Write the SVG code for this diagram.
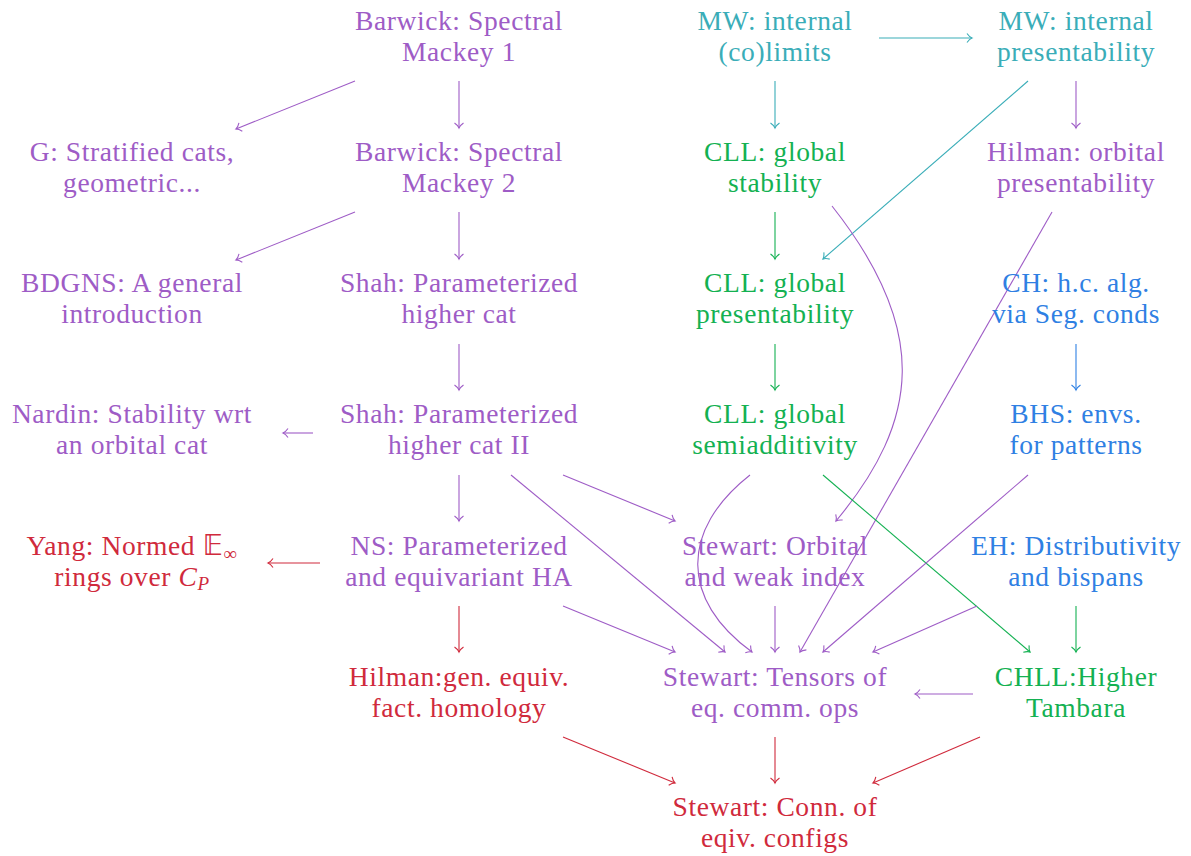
<svg xmlns="http://www.w3.org/2000/svg" width="1191" height="856" viewBox="0 0 1191 856">
<style>
text{font-family:"Liberation Serif",serif;font-size:27.5px;letter-spacing:0.6px;text-anchor:middle}
.pu{fill:#9E5CC6}.te{fill:#3AADB8}.gr{fill:#14B152}.bl{fill:#2F80E3}.re{fill:#D02A3C}
path.c{fill:none;stroke-width:1.1}
.spu{stroke:#9E5CC6}.ste{stroke:#3AADB8}.sgr{stroke:#14B152}.sbl{stroke:#2F80E3}.sre{stroke:#D02A3C}
</style>
<defs>
<marker id="apu" markerUnits="userSpaceOnUse" orient="auto" markerWidth="12" markerHeight="12" refX="0" refY="0" viewBox="-6 -6 12 12" overflow="visible"><path d="M-5,-4.5 C-3,-1.6 -1,-0.4 0,0 C-1,0.4 -3,1.6 -5,4.5" fill="none" stroke="#9E5CC6" stroke-width="1.1"/></marker>
<marker id="ate" markerUnits="userSpaceOnUse" orient="auto" markerWidth="12" markerHeight="12" refX="0" refY="0" viewBox="-6 -6 12 12" overflow="visible"><path d="M-5,-4.5 C-3,-1.6 -1,-0.4 0,0 C-1,0.4 -3,1.6 -5,4.5" fill="none" stroke="#3AADB8" stroke-width="1.1"/></marker>
<marker id="agr" markerUnits="userSpaceOnUse" orient="auto" markerWidth="12" markerHeight="12" refX="0" refY="0" viewBox="-6 -6 12 12" overflow="visible"><path d="M-5,-4.5 C-3,-1.6 -1,-0.4 0,0 C-1,0.4 -3,1.6 -5,4.5" fill="none" stroke="#14B152" stroke-width="1.1"/></marker>
<marker id="abl" markerUnits="userSpaceOnUse" orient="auto" markerWidth="12" markerHeight="12" refX="0" refY="0" viewBox="-6 -6 12 12" overflow="visible"><path d="M-5,-4.5 C-3,-1.6 -1,-0.4 0,0 C-1,0.4 -3,1.6 -5,4.5" fill="none" stroke="#2F80E3" stroke-width="1.1"/></marker>
<marker id="are" markerUnits="userSpaceOnUse" orient="auto" markerWidth="12" markerHeight="12" refX="0" refY="0" viewBox="-6 -6 12 12" overflow="visible"><path d="M-5,-4.5 C-3,-1.6 -1,-0.4 0,0 C-1,0.4 -3,1.6 -5,4.5" fill="none" stroke="#D02A3C" stroke-width="1.1"/></marker>
</defs>

<g id="connectors">
<path class="c spu" marker-end="url(#apu)" d="M355,81 L236,129"/>
<path class="c spu" marker-end="url(#apu)" d="M459,81 L459,128"/>
<path class="c ste" marker-end="url(#ate)" d="M879,38 L972,38"/>
<path class="c ste" marker-end="url(#ate)" d="M775,81 L775,128"/>
<path class="c ste" marker-end="url(#ate)" d="M1028,81 L823,259"/>
<path class="c spu" marker-end="url(#apu)" d="M1076,81 L1076,128"/>
<path class="c spu" marker-end="url(#apu)" d="M355,212 L236,260"/>
<path class="c spu" marker-end="url(#apu)" d="M459,212 L459,259"/>
<path class="c sgr" marker-end="url(#agr)" d="M775,212 L775,259"/>
<path class="c spu" marker-end="url(#apu)" d="M832,206 C930,330 920,420 836,521"/>
<path class="c spu" marker-end="url(#apu)" d="M1052,212 L800,652"/>
<path class="c spu" marker-end="url(#apu)" d="M459,344 L459,390"/>
<path class="c sgr" marker-end="url(#agr)" d="M775,344 L775,390"/>
<path class="c sbl" marker-end="url(#abl)" d="M1076,344 L1076,390"/>
<path class="c spu" marker-end="url(#apu)" d="M313,433 L283,433"/>
<path class="c spu" marker-end="url(#apu)" d="M459,475 L459,521"/>
<path class="c spu" marker-end="url(#apu)" d="M563,475 L675,521"/>
<path class="c spu" marker-end="url(#apu)" d="M511,475 L725,652"/>
<path class="c spu" marker-end="url(#apu)" d="M750,475 C680,530 680,600 752,652"/>
<path class="c sgr" marker-end="url(#agr)" d="M823,475 L1030,652"/>
<path class="c spu" marker-end="url(#apu)" d="M1028,475 L823,652"/>
<path class="c sre" marker-end="url(#are)" d="M320,563 L268,563"/>
<path class="c sre" marker-end="url(#are)" d="M459,606 L459,652"/>
<path class="c spu" marker-end="url(#apu)" d="M563,606 L675,652"/>
<path class="c spu" marker-end="url(#apu)" d="M775,606 L775,652"/>
<path class="c spu" marker-end="url(#apu)" d="M977,606 L873,652"/>
<path class="c sgr" marker-end="url(#agr)" d="M1076,606 L1076,652"/>
<path class="c spu" marker-end="url(#apu)" d="M973,694 L915,694"/>
<path class="c sre" marker-end="url(#are)" d="M563,737 L675,783"/>
<path class="c sre" marker-end="url(#are)" d="M775,737 L775,783"/>
<path class="c sre" marker-end="url(#are)" d="M980,737 L873,783"/>
</g>

<g id="barwick1" class="pu"><text x="459" y="30">Barwick: Spectral</text><text x="459" y="61">Mackey 1</text></g>
<g id="mw-colimits" class="te"><text x="775" y="30">MW: internal</text><text x="775" y="61">(co)limits</text></g>
<g id="mw-presentability" class="te"><text x="1076" y="30">MW: internal</text><text x="1076" y="61">presentability</text></g>

<g id="g-stratified" class="pu"><text x="132" y="161">G: Stratified cats,</text><text x="132" y="192">geometric...</text></g>
<g id="barwick2" class="pu"><text x="459" y="161">Barwick: Spectral</text><text x="459" y="192">Mackey 2</text></g>
<g id="cll-stability" class="gr"><text x="775" y="161">CLL: global</text><text x="775" y="192">stability</text></g>
<g id="hilman-orbital" class="pu"><text x="1076" y="161">Hilman: orbital</text><text x="1076" y="192">presentability</text></g>

<g id="bdgns" class="pu"><text x="132" y="292">BDGNS: A general</text><text x="132" y="323">introduction</text></g>
<g id="shah1" class="pu"><text x="459" y="292">Shah: Parameterized</text><text x="459" y="323">higher cat</text></g>
<g id="cll-presentability" class="gr"><text x="775" y="292">CLL: global</text><text x="775" y="323">presentability</text></g>
<g id="ch" class="bl"><text x="1076" y="292">CH: h.c. alg.</text><text x="1076" y="323">via Seg. conds</text></g>

<g id="nardin" class="pu"><text x="132" y="423">Nardin: Stability wrt</text><text x="132" y="454">an orbital cat</text></g>
<g id="shah2" class="pu"><text x="459" y="423">Shah: Parameterized</text><text x="459" y="454">higher cat II</text></g>
<g id="cll-semiadditivity" class="gr"><text x="775" y="423">CLL: global</text><text x="775" y="454">semiadditivity</text></g>
<g id="bhs" class="bl"><text x="1076" y="423">BHS: envs.</text><text x="1076" y="454">for patterns</text></g>

<g id="yang" class="re"><text x="132" y="555">Yang: Normed <tspan font-family="DejaVu Sans">&#x1D53C;</tspan><tspan font-size="19" dy="5">∞</tspan></text><text x="132" y="586">rings over <tspan font-style="italic">C</tspan><tspan font-style="italic" font-size="19" dy="4">P</tspan></text></g>
<g id="ns" class="pu"><text x="459" y="555">NS: Parameterized</text><text x="459" y="586">and equivariant HA</text></g>
<g id="stewart-orbital" class="pu"><text x="775" y="555">Stewart: Orbital</text><text x="775" y="586">and weak index</text></g>
<g id="eh" class="bl"><text x="1076" y="555">EH: Distributivity</text><text x="1076" y="586">and bispans</text></g>

<g id="hilman-gen" class="re"><text x="459" y="686">Hilman:gen. equiv.</text><text x="459" y="717">fact. homology</text></g>
<g id="stewart-tensors" class="pu"><text x="775" y="686">Stewart: Tensors of</text><text x="775" y="717">eq. comm. ops</text></g>
<g id="chll" class="gr"><text x="1076" y="686">CHLL:Higher</text><text x="1076" y="717">Tambara</text></g>

<g id="stewart-conn" class="re"><text x="775" y="816">Stewart: Conn. of</text><text x="775" y="847">eqiv. configs</text></g>
</svg>
